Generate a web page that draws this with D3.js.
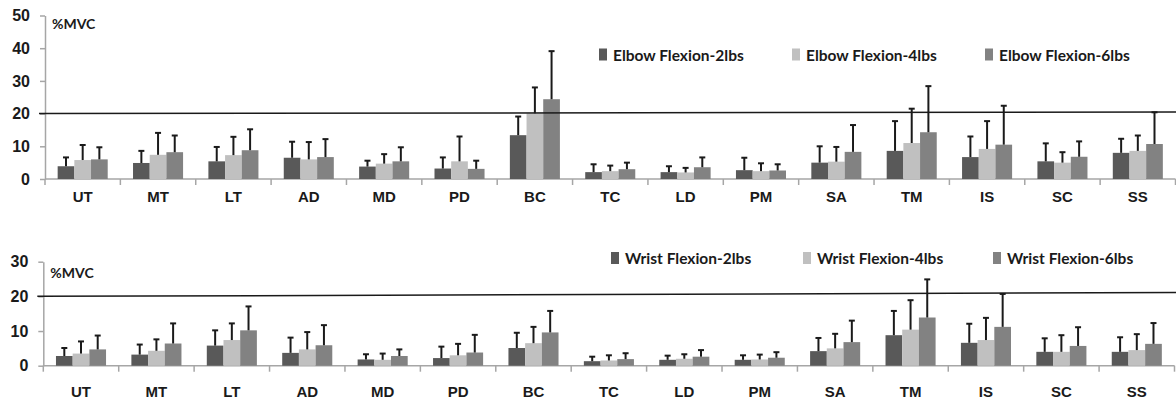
<!DOCTYPE html>
<meta charset="utf-8">
<style>
body { margin: 0; background: #fff; }
svg { display: block; font-family: Lato, "Open Sans", sans-serif; }
.axis path, .axis line { stroke: #a6a6a6; stroke-width: 1.5; }
.axis text { font-size: 16px; font-weight: bold; fill: #1a1a1a; }
.xlab text { font-size: 15px; font-weight: bold; fill: #1a1a1a; }
.legend text { font-size: 15.5px; font-weight: bold; fill: #1a1a1a; }
.unit { font-size: 14px; font-weight: bold; fill: #1a1a1a; }
.err { stroke: #1a1a1a; stroke-width: 2; }
</style>
<svg width="1176" height="404"></svg>
<script src="https://d3js.org/d3.v7.min.js"></script>
<script>

var muscles = ["UT","MT","LT","AD","MD","PD","BC","TC","LD","PM","SA","TM","IS","SC","SS"];
var colors = ["#595959", "#c0c0c0", "#828282"];

// elbow flexion (top panel)
var elbowNames = ["Elbow Flexion-2lbs", "Elbow Flexion-4lbs", "Elbow Flexion-6lbs"];
var elbow2 = [3.9, 4.9, 5.4, 6.5, 3.8, 3.2, 13.4, 2.1, 2.1, 2.7, 5.0, 8.6, 6.7, 5.4, 8.0];
var elbow4 = [5.8, 7.4, 7.3, 6.0, 4.7, 5.4, 20.1, 2.4, 2.0, 2.4, 5.3, 11.0, 9.2, 5.0, 8.6];
var elbow6 = [6.0, 8.2, 8.8, 6.7, 5.4, 3.1, 24.4, 3.0, 3.6, 2.6, 8.3, 14.3, 10.5, 6.8, 10.7];
var elbow2Err = [6.6, 8.6, 9.8, 11.4, 5.6, 6.6, 19.1, 4.5, 3.9, 6.5, 10.0, 17.7, 13.0, 10.9, 12.3];
var elbow4Err = [10.4, 14.1, 12.9, 11.3, 7.6, 13.0, 28.0, 4.1, 3.4, 4.8, 9.8, 21.5, 17.7, 8.2, 13.3];
var elbow6Err = [9.7, 13.3, 15.2, 12.2, 9.7, 5.6, 39.1, 5.0, 6.6, 4.5, 16.5, 28.4, 22.4, 11.5, 20.4];

// wrist flexion (bottom panel)
var wristNames = ["Wrist Flexion-2lbs", "Wrist Flexion-4lbs", "Wrist Flexion-6lbs"];
var wrist2 = [2.8, 3.2, 5.8, 3.7, 1.8, 2.2, 5.1, 1.3, 1.7, 1.7, 4.2, 8.8, 6.6, 4.0, 4.0];
var wrist4 = [3.5, 4.3, 7.4, 4.7, 1.7, 3.0, 6.5, 1.5, 2.0, 1.8, 5.0, 10.4, 7.4, 4.0, 4.5];
var wrist6 = [4.7, 6.4, 10.2, 5.9, 2.8, 3.8, 9.6, 1.9, 2.6, 2.3, 6.8, 13.9, 11.2, 5.7, 6.3];
var wrist2Err = [5.1, 6.1, 10.2, 8.1, 3.3, 5.5, 9.5, 2.6, 2.9, 3.0, 8.0, 15.8, 12.1, 7.9, 8.2];
var wrist4Err = [7.0, 7.6, 12.2, 9.7, 3.5, 6.3, 11.2, 3.0, 3.3, 3.2, 9.2, 18.9, 13.8, 8.8, 9.1];
var wrist6Err = [8.7, 12.2, 17.1, 11.7, 4.7, 8.9, 15.8, 3.6, 4.5, 3.9, 13.0, 24.9, 20.7, 11.1, 12.3];

var elbowTicks = [0, 10, 20, 30, 40, 50];
var wristTicks = [0, 10, 20, 30];
// the 20 %MVC line (drawn slightly off level in the original)
var elbowRef = [20, 20.5];
var wristRef = [20, 21.1];

var svg = d3.select("svg");

function panel(o) {
  var x = d3.scaleBand().domain(muscles).range(o.xr).paddingInner(0.336).paddingOuter(0.168);
  var y = d3.scaleLinear().domain([0, o.max]).range(o.yr);
  var xs = d3.scaleBand().domain([0, 1, 2]).range([0, x.bandwidth()]);
  var g = svg.append("g");

  // y axis
  g.append("g")
      .attr("class", "axis")
      .attr("transform", "translate(" + o.xr[0] + ",0)")
      .call(d3.axisLeft(y).tickValues(o.ticks).tickSize(5).tickSizeOuter(0).tickPadding(10));

  // x axis line + ticks between categories
  var xa = g.append("g").attr("class", "axis");
  xa.append("line")
      .attr("x1", o.xr[0]).attr("x2", o.xr[1])
      .attr("y1", y(0)).attr("y2", y(0));
  xa.selectAll(".bt")
    .data(d3.range(muscles.length + 1))
    .enter().append("line")
      .attr("x1", function(i) { return o.xr[0] + i * x.step(); })
      .attr("x2", function(i) { return o.xr[0] + i * x.step(); })
      .attr("y1", y(0)).attr("y2", y(0) + 6);

  g.append("g")
      .attr("class", "xlab")
      .attr("transform", "translate(0," + y(0) + ")")
      .call(d3.axisBottom(x).tickSize(0).tickPadding(o.labPad))
      .call(function(a) { a.select(".domain").remove(); });

  // bars
  var rows = [];
  o.vals.forEach(function(s, si) {
    s.forEach(function(v, i) {
      rows.push({m: muscles[i], s: si, v: v, e: o.errs[si][i]});
    });
  });

  g.selectAll(".bar")
    .data(rows)
    .enter().append("rect")
      .attr("x", function(d) { return x(d.m) + xs(d.s); })
      .attr("y", function(d) { return y(d.v); })
      .attr("width", xs.bandwidth())
      .attr("height", function(d) { return y(0) - y(d.v); })
      .attr("fill", function(d) { return colors[d.s]; });

  // error bars
  var eb = g.selectAll(".eb").data(rows).enter().append("g").attr("class", "err");
  eb.append("line")
      .attr("x1", function(d) { return x(d.m) + xs(d.s) + xs.bandwidth() / 2; })
      .attr("x2", function(d) { return x(d.m) + xs(d.s) + xs.bandwidth() / 2; })
      .attr("y1", function(d) { return y(d.v); })
      .attr("y2", function(d) { return y(d.e); });
  eb.append("line")
      .attr("x1", function(d) { return x(d.m) + xs(d.s) + xs.bandwidth() / 2 - 3; })
      .attr("x2", function(d) { return x(d.m) + xs(d.s) + xs.bandwidth() / 2 + 3; })
      .attr("y1", function(d) { return y(d.e); })
      .attr("y2", function(d) { return y(d.e); });

  // 20% line
  g.append("line")
      .attr("x1", o.xr[0] - 6).attr("x2", 1176)
      .attr("y1", y(o.ref[0])).attr("y2", y(o.ref[1]))
      .attr("stroke", "#1a1a1a").attr("stroke-width", 1.5);

  g.append("text")
      .attr("class", "unit")
      .attr("x", o.xr[0] + 7)
      .attr("y", o.unitY)
      .text("%MVC");

  // legend
  var lg = g.append("g").attr("class", "legend");
  o.names.forEach(function(n, i) {
    var lx = o.legX[i];
    lg.append("rect")
        .attr("x", lx).attr("y", o.legY - 12)
        .attr("width", 8).attr("height", 12)
        .attr("fill", colors[i]);
    lg.append("text")
        .attr("x", lx + 14).attr("y", o.legY)
        .text(n);
  });
}

panel({
  xr: [45, 1175.5], yr: [179, 15.5], max: 50, ticks: elbowTicks,
  vals: [elbow2, elbow4, elbow6], errs: [elbow2Err, elbow4Err, elbow6Err],
  names: elbowNames, legX: [599, 792, 985], legY: 60.5,
  ref: elbowRef, unitY: 29, labPad: 12
});

panel({
  xr: [43.3, 1174.5], yr: [365.7, 261.7], max: 30, ticks: wristTicks,
  vals: [wrist2, wrist4, wrist6], errs: [wrist2Err, wrist4Err, wrist6Err],
  names: wristNames, legX: [611, 803, 993], legY: 264,
  ref: wristRef, unitY: 278, labPad: 21
});

</script>
